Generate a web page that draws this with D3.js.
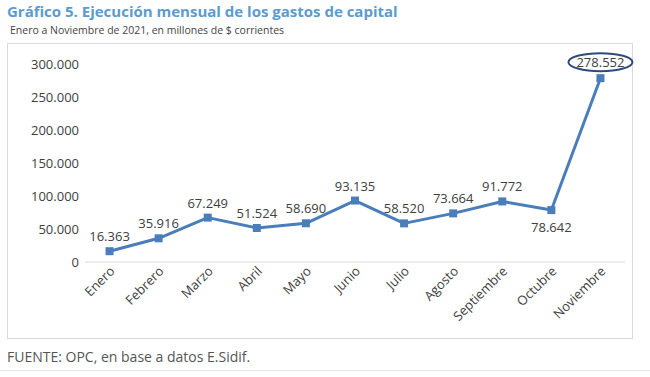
<!DOCTYPE html>
<html>
<head>
<meta charset="utf-8">
<script src="https://cdn.jsdelivr.net/npm/d3@7"></script>
<style>
  body { margin: 0; background: #fff; font-family: "Open Sans", sans-serif; }
</style>
</head>
<body>
<svg id="chart" width="650" height="377"></svg>
<script>
// Monthly capital spending, millions of current $
const months = ["Enero", "Febrero", "Marzo", "Abril", "Mayo", "Junio", "Julio",
                "Agosto", "Septiembre", "Octubre", "Noviembre"];
const values = [16363, 35916, 67249, 51524, 58690, 93135, 58520, 73664, 91772, 78642, 278552];
const yTicks = [0, 50000, 100000, 150000, 200000, 250000, 300000];

const fmt = d => d3.format(",")(d).replace(/,/g, ".");

const svg = d3.select('#chart');
const blue = '#4a7ebb';

// Title block
svg.append('text')
    .attr('x', 7).attr('y', 17)
    .attr('fill', '#5b9bd0')
    .style('font-size', '15px')
    .style('font-weight', 'bold')
    .text('Gráfico 5. Ejecución mensual de los gastos de capital');

svg.append('text')
    .attr('x', 10).attr('y', 34)
    .attr('fill', '#444')
    .style('font-size', '10.5px')
    .text('Enero a Noviembre de 2021, en millones de $ corrientes');

// Chart frame
svg.append('rect')
    .attr('x', 7.5).attr('y', 43.5)
    .attr('width', 625).attr('height', 295)
    .attr('fill', 'none')
    .attr('stroke', '#d9d9d9');

const x = d3.scaleBand().domain(months).range([85, 625]);
const y = d3.scaleLinear().domain([0, 300000]).range([262, 64]);

// Y axis labels
const yAxis = svg.append('g')
    .attr('transform', 'translate(85,0)')
    .call(d3.axisLeft(y).tickValues(yTicks).tickFormat(fmt).tickSize(0).tickPadding(6));
yAxis.select('.domain').remove();
yAxis.selectAll('text')
    .attr('fill', '#404040')
    .style('font-size', '13px')
    .style('font-family', '"Open Sans", sans-serif');

// Baseline
svg.append('line')
    .attr('x1', 85).attr('x2', 625)
    .attr('y1', y(0)).attr('y2', y(0))
    .attr('stroke', '#d9d9d9');

// X axis labels (rotated)
const xAxis = svg.append('g')
    .attr('transform', `translate(0,${y(0)})`)
    .call(d3.axisBottom(x).tickSize(0).tickPadding(0));
xAxis.select('.domain').remove();
xAxis.selectAll('text')
    .attr('fill', '#404040')
    .style('font-size', '13px')
    .style('font-family', '"Open Sans", sans-serif')
    .attr('text-anchor', 'end')
    .attr('dy', 0)
    .attr('transform', 'translate(6,10) rotate(-45)');

// Line
const cx = (d, i) => x(months[i]) + x.bandwidth() / 2;
svg.append('path')
    .datum(values)
    .attr('fill', 'none')
    .attr('stroke', blue)
    .attr('stroke-width', 3)
    .attr('stroke-linejoin', 'round')
    .attr('d', d3.line().x(cx).y(d => y(d)));

// Markers
svg.selectAll('.marker')
    .data(values)
    .enter()
    .append('rect')
    .attr('class', 'marker')
    .attr('x', (d, i) => cx(d, i) - 4)
    .attr('y', d => y(d) - 4)
    .attr('width', 8).attr('height', 8)
    .attr('fill', blue);

// Data labels (Octubre sits below the point)
const last = values.length - 1;
svg.selectAll('.lbl')
    .data(values)
    .enter()
    .append('text')
    .attr('class', 'lbl')
    .attr('x', cx)
    .attr('y', (d, i) => i === 9 ? y(d) + 22 : (i === last ? y(d) - 11 : y(d) - 10))
    .attr('text-anchor', 'middle')
    .attr('fill', '#404040')
    .style('font-size', '13px')
    .text(d => fmt(d));

// Highlight ellipse around the last value
svg.append('ellipse')
    .attr('cx', cx(values[last], last))
    .attr('cy', y(values[last]) - 16)
    .attr('rx', 32).attr('ry', 9)
    .attr('fill', 'none')
    .attr('stroke', '#2e4a7a')
    .attr('stroke-width', 2);

// Footer
svg.append('text')
    .attr('x', 7).attr('y', 362)
    .attr('fill', '#555')
    .style('font-size', '14px')
    .text('FUENTE: OPC, en base a datos E.Sidif.');

svg.append('line')
    .attr('x1', 0).attr('x2', 650)
    .attr('y1', 370.5).attr('y2', 370.5)
    .attr('stroke', '#e6e6e6');
</script>
</body>
</html>
